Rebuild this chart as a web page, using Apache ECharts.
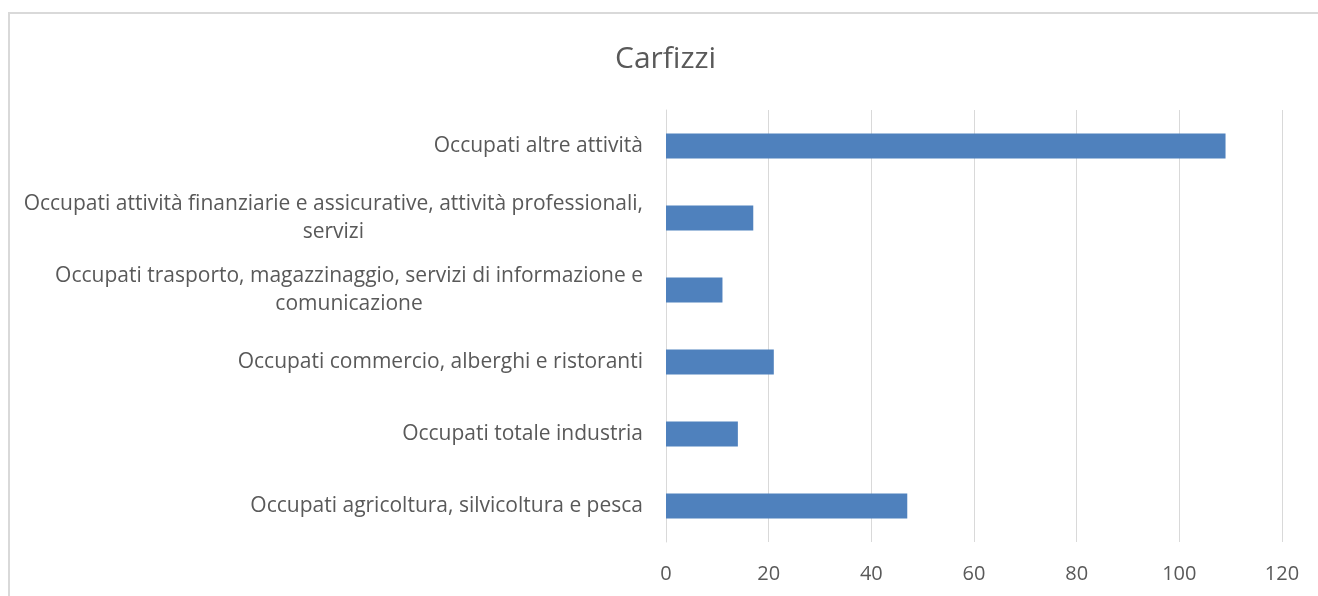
<!DOCTYPE html>
<html>
<head>
    <meta charset="utf-8">
    <title>Carfizzi</title>
    <script src="https://cdn.jsdelivr.net/npm/echarts@6/dist/echarts.min.js"></script>
    <style>
        html, body {
            margin: 0;
            padding: 0;
            background: #fff;
            overflow: hidden;
        }
        .chart-frame {
            position: absolute;
            left: 8px;
            top: 12px;
            width: 1400px;
            height: 700px;
            border-left: 2px solid #d9d9d9;
            border-top: 2px solid #d9d9d9;
        }
        #mainChart {
            position: absolute;
            left: 0;
            top: 0;
            width: 1318px;
            height: 596px;
        }
    </style>
</head>
<body>
<div class="chart-frame"></div>
<div id="mainChart"></div>
<script>
    // categorie, dal basso verso l'alto
    const categories = [
        'Occupati agricoltura, silvicoltura e pesca',
        'Occupati totale industria',
        'Occupati commercio, alberghi e ristoranti',
        'Occupati trasporto, magazzinaggio, servizi di informazione e\ncomunicazione',
        'Occupati attività finanziarie e assicurative, attività professionali,\nservizi',
        'Occupati altre attività'
    ];
    const occupati = [47, 14, 21, 11, 17, 109];
    const xTicks = [0, 20, 40, 60, 80, 100, 120];

    let myChart = echarts.init(document.getElementById('mainChart'));
    myChart.setOption({
        backgroundColor: 'transparent',
        textStyle: {
            fontFamily: 'Open Sans'
        },
        title: {
            text: 'Carfizzi',
            left: 610,
            top: 39,
            textStyle: {
                color: '#595959',
                fontSize: 30,
                fontWeight: 'normal',
                fontFamily: 'Open Sans'
            }
        },
        grid: {
            left: 666,
            right: 36,
            top: 110,
            bottom: 54,
            containLabel: false
        },
        xAxis: {
            type: 'value',
            min: xTicks[0],
            max: xTicks[xTicks.length - 1],
            interval: xTicks[1] - xTicks[0],
            axisLine: { show: false },
            axisTick: { show: false },
            axisLabel: {
                color: '#595959',
                fontSize: 20,
                margin: 22
            },
            splitLine: {
                lineStyle: {
                    color: '#d9d9d9',
                    width: 1
                }
            }
        },
        yAxis: {
            type: 'category',
            data: categories,
            axisLine: {
                lineStyle: { color: '#d9d9d9' }
            },
            axisTick: { show: false },
            axisLabel: {
                margin: 23,
                color: '#595959',
                fontSize: 21,
                lineHeight: 28,
                formatter: function (v) {
                    return v.split('\n').map(function (s) { return '{c|' + s + '}'; }).join('\n');
                },
                rich: {
                    c: {
                        align: 'center',
                        color: '#595959',
                        fontSize: 21,
                        lineHeight: 28,
                        fontFamily: 'Open Sans'
                    }
                }
            }
        },
        series: [{
            name: 'Carfizzi',
            type: 'bar',
            data: occupati,
            barWidth: 25,
            itemStyle: {
                color: '#4f81bd'
            }
        }]
    });
</script>
</body>
</html>
